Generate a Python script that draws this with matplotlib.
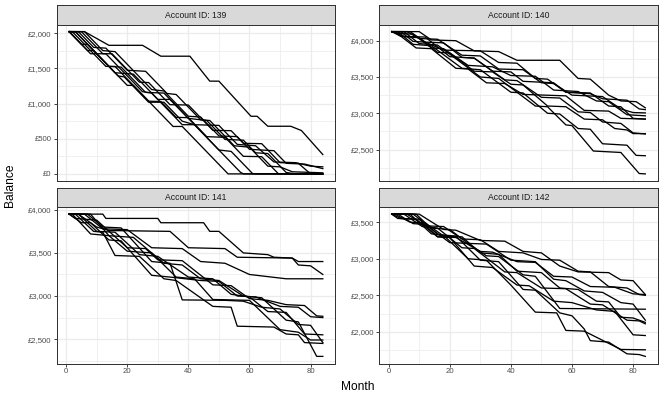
import matplotlib
matplotlib.use("Agg")
import matplotlib.pyplot as plt
from matplotlib.ticker import FuncFormatter, MultipleLocator

# each simulated path is stored as (month, balance) turning points
acc_139 = [
    [(1, 2025), (6, 2025), (14, 1830), (25, 1830), (31, 1675), (40.5, 1675), (47, 1320), (50, 1320),
     (53, 1177), (60.5, 820), (62.5, 820), (66, 678), (73.5, 678), (77, 617), (84, 275)],
    [(1, 2025), (5, 1845), (7, 1845), (20, 1260), (22, 1260), (35, 675), (38, 675), (53, 0), (84, 0)],
    [(1, 2025), (3, 2025), (10, 1710), (13, 1710), (25, 1170), (28, 1150), (38, 700), (42, 700),
     (57, 25), (58, 0), (84, 0)],
    [(1, 2025), (7, 1755), (9, 1755), (17, 1395), (19, 1380), (27, 1020), (32, 1020), (38, 750),
     (42, 700), (50, 340), (54, 320), (61, 5), (62.5, 0), (84, 0)],
    [(1, 2025), (2, 2025), (13, 1530), (16, 1530), (27, 1035), (31, 1030), (36, 805), (40, 800),
     (46, 530), (52, 520), (58, 250), (64, 245), (69.5, 0), (84, 0)],
    [(1, 2025), (8, 1710), (10, 1710), (16, 1440), (22, 1420), (30, 1060), (34, 1060), (40, 790),
     (46, 760), (52, 490), (58, 480), (62, 300), (66, 290), (72, 20), (75, 0), (84, 0)],
    [(1, 2025), (5, 2025), (12, 1710), (15, 1710), (24, 1305), (27, 1300), (34, 985), (40, 980),
     (48, 620), (54, 615), (58, 435), (64, 430), (70, 160), (76, 150), (80, 0), (84, 0)],
    [(1, 2025), (3, 2025), (14, 1530), (18, 1520), (26, 1160), (32, 1150), (42, 700), (50, 690),
     (56, 420), (62, 400), (68, 170), (75, 160), (80, 110), (84, 100)],
    [(1, 2025), (6, 2025), (12, 1755), (16, 1740), (28, 1200), (32, 1180), (40, 820), (44, 810),
     (50, 540), (56, 530), (60, 350), (68, 330), (72, 150), (78, 140), (84, 75)],
    [(1, 2025), (4, 2025), (9, 1800), (13, 1790), (20, 1475), (26, 1460), (33, 1145), (36, 1130),
     (44, 770), (47, 760), (55, 400), (60, 380), (66, 110), (70, 100), (74, 30), (84, 15)],
]

acc_140 = [
    [(1, 4125), (10, 4125), (14, 4010), (22, 4000), (28, 3860), (36, 3850), (42, 3730), (56, 3730),
     (62, 3480), (66, 3470), (72, 3250), (76, 3170), (81, 3160), (84, 3075)],
    [(1, 4125), (4, 4125), (8, 3990), (12, 3980), (18, 3870), (30, 3860), (36, 3700), (42, 3690),
     (48, 3480), (52, 3470), (58, 3290), (66, 3270), (70, 3200), (78, 3180), (82, 3060), (84, 3050)],
    [(1, 4125), (6, 4125), (10, 4030), (16, 4020), (24, 3800), (30, 3790), (36, 3610), (44, 3600),
     (50, 3420), (54, 3410), (60, 3250), (70, 3230), (76, 3060), (80, 3010), (84, 3005)],
    [(1, 4125), (3, 4100), (8, 4090), (14, 3900), (18, 3890), (26, 3660), (34, 3640), (40, 3520),
     (48, 3510), (54, 3320), (62, 3300), (68, 3170), (72, 3160), (78, 2980), (84, 2965)],
    [(1, 4125), (5, 4060), (12, 4050), (20, 3780), (28, 3760), (34, 3580), (40, 3570), (44, 3440),
     (54, 3420), (58, 3290), (66, 3280), (72, 3100), (76, 3090), (80, 2930), (84, 2920)],
    [(1, 4125), (2, 4125), (9, 3900), (14, 3890), (22, 3620), (26, 3610), (32, 3420), (38, 3410),
     (44, 3260), (58, 3240), (64, 3040), (72, 3030), (76, 2930), (84, 2920)],
    [(1, 4125), (4, 4060), (10, 4040), (16, 3840), (20, 3830), (28, 3580), (34, 3570), (40, 3400),
     (44, 3390), (52, 3100), (58, 3090), (64, 2920), (70, 2910), (74, 2790), (78, 2770), (80, 2720),
     (84, 2720)],
    [(1, 4125), (7, 4125), (12, 3980), (18, 3970), (24, 3770), (28, 3760), (38, 3460), (42, 3450),
     (50, 3220), (56, 3210), (62, 3020), (66, 3010), (70, 2880), (76, 2860), (80, 2730), (84, 2715)],
    [(1, 4125), (3, 4125), (8, 3950), (14, 3930), (24, 3620), (30, 3600), (40, 3290), (44, 3280),
     (52, 3000), (56, 2990), (62, 2790), (66, 2780), (70, 2580), (78, 2560), (81, 2420), (84, 2415)],
    [(1, 4125), (5, 4125), (10, 3960), (16, 3940), (30, 3500), (36, 3480), (48, 3100), (52, 3090),
     (58, 2840), (60, 2830), (67, 2480), (76, 2460), (82, 2170), (84, 2165)],
]

acc_141 = [
    [(1, 3950), (12, 3950), (13, 3900), (30, 3900), (31, 3850), (45, 3850), (47, 3750), (50, 3750),
     (58, 3500), (66, 3480), (68, 3450), (74, 3440), (76, 3400), (84, 3400)],
    [(1, 3950), (4, 3950), (10, 3800), (14, 3760), (34, 3750), (40, 3560), (52, 3550), (56, 3450),
     (74, 3440), (76, 3360), (80, 3350), (84, 3250)],
    [(1, 3950), (6, 3950), (12, 3780), (20, 3770), (28, 3560), (38, 3550), (44, 3400), (52, 3380),
     (60, 3250), (72, 3200), (84, 3200)],
    [(1, 3950), (3, 3900), (10, 3880), (20, 3560), (26, 3550), (30, 3420), (38, 3410), (48, 3130),
     (54, 3120), (60, 2970), (66, 2950), (72, 2900), (78, 2890), (82, 2770), (84, 2765)],
    [(1, 3950), (5, 3850), (8, 3850), (14, 3650), (18, 3640), (28, 3240), (34, 3220), (44, 3180),
     (50, 3170), (56, 3000), (62, 2990), (70, 2880), (76, 2870), (80, 2760), (84, 2750)],
    [(1, 3950), (4, 3950), (10, 3750), (16, 3740), (24, 3480), (30, 3460), (40, 3220), (48, 3200),
     (54, 3020), (60, 2990), (66, 2820), (72, 2810), (78, 2560), (84, 2550)],
    [(1, 3950), (2, 3950), (8, 3720), (14, 3700), (20, 3520), (28, 3500), (36, 3220), (42, 3200),
     (48, 2960), (60, 2950), (70, 2610), (76, 2580), (80, 2490), (84, 2490)],
    [(1, 3950), (7, 3950), (12, 3800), (18, 3790), (28, 3400), (34, 3380), (38, 2955), (52, 2950),
     (58, 2940), (64, 2870), (70, 2850), (76, 2670), (80, 2660), (84, 2460)],
    [(1, 3950), (3, 3950), (9, 3750), (12, 3740), (16, 3470), (24, 3460), (32, 3200), (36, 3180),
     (48, 2880), (54, 2870), (56, 2650), (68, 2640), (72, 2560), (76, 2550), (78, 2460), (84, 2450)],
    [(1, 3950), (8, 3950), (14, 3700), (22, 3680), (32, 3380), (38, 3360), (44, 3200), (50, 3180),
     (58, 3000), (64, 2980), (72, 2720), (76, 2700), (82, 2300), (84, 2300)],
]

acc_142 = [
    [(1, 3610), (10, 3610), (18, 3400), (22, 3390), (30, 3250), (38, 3240), (44, 3100), (50, 3080),
     (56, 2900), (62, 2820), (72, 2810), (76, 2710), (80, 2700), (84, 2510)],
    [(1, 3610), (6, 3610), (12, 3450), (18, 3440), (24, 3270), (30, 3260), (36, 3100), (44, 3080),
     (50, 2990), (56, 2980), (62, 2830), (66, 2820), (72, 2620), (78, 2600), (82, 2510), (84, 2500)],
    [(1, 3610), (4, 3550), (10, 3540), (16, 3300), (22, 3290), (30, 3100), (34, 3090), (42, 2960),
     (48, 2950), (54, 2760), (60, 2750), (66, 2620), (74, 2610), (80, 2520), (84, 2510)],
    [(1, 3610), (3, 3610), (8, 3480), (12, 3470), (20, 3220), (26, 3210), (32, 3040), (36, 3030),
     (44, 2780), (48, 2760), (56, 2320), (84, 2310)],
    [(1, 3610), (8, 3610), (14, 3420), (20, 3400), (26, 3210), (32, 3200), (40, 2980), (48, 2960),
     (54, 2720), (58, 2700), (64, 2560), (70, 2540), (76, 2400), (80, 2380), (84, 2160)],
    [(1, 3610), (2, 3610), (7, 3500), (12, 3490), (18, 3310), (24, 3300), (30, 3080), (36, 3060),
     (42, 2830), (50, 2810), (56, 2600), (62, 2580), (68, 2420), (72, 2410), (76, 2200), (80, 2190),
     (84, 2130)],
    [(1, 3610), (5, 3610), (11, 3440), (16, 3420), (24, 3150), (28, 3140), (38, 2820), (42, 2810),
     (50, 2600), (58, 2590), (66, 2380), (70, 2370), (78, 2160), (82, 2150), (84, 2110)],
    [(1, 3610), (3, 3550), (9, 3540), (16, 3300), (20, 3290), (28, 2900), (34, 2880), (42, 2640),
     (46, 2630), (54, 2420), (60, 2400), (68, 2300), (74, 2280), (80, 1960), (84, 1950)],
    [(1, 3610), (7, 3610), (14, 3340), (18, 3320), (26, 3000), (32, 2980), (40, 2640), (48, 2270),
     (55, 2260), (58, 2020), (64, 2010), (76, 1760), (84, 1755)],
    [(1, 3610), (9, 3610), (16, 3330), (22, 3310), (30, 2980), (36, 2960), (44, 2580), (48, 2570),
     (56, 2260), (60, 2220), (64, 2040), (66, 1880), (72, 1860), (78, 1700), (82, 1690), (84, 1665)],
]

account_ids = [139, 140, 141, 142]
paths = [acc_139, acc_140, acc_141, acc_142]
y_steps = [500, 500, 500, 500]

W, H = 664, 399
fig = plt.figure(figsize=(W / 72, H / 72), dpi=72)
plt.rcParams["font.family"] = ["Liberation Sans", "DejaVu Sans"]

# panel boxes in pixels: (left, top, width, height)
col_x = [56.5, 379.0]
row_y = [24.5, 207.0]
pw, ph = 279.0, 156.5
strip_h = 19.0

def px_axes(left, top, width, height):
    return fig.add_axes([left / W, 1 - (top + height) / H, width / W, height / H])

money = FuncFormatter(lambda v, pos: f"£{v:,.0f}")

for i, (acc, lines) in enumerate(zip(account_ids, paths)):
    r, c = divmod(i, 2)
    ax = px_axes(col_x[c], row_y[r], pw, ph)
    for line in lines:
        months = [p[0] for p in line]
        bal = [p[1] for p in line]
        ax.plot(months, bal, color="black", lw=1.3, solid_joinstyle="round")
    ax.set_xlim(1 - 0.05 * 83, 84 + 0.05 * 83)
    ax.margins(y=0.05)
    ax.xaxis.set_major_locator(MultipleLocator(20))
    ax.xaxis.set_minor_locator(MultipleLocator(10))
    ax.yaxis.set_major_locator(MultipleLocator(y_steps[i]))
    ax.yaxis.set_minor_locator(MultipleLocator(y_steps[i] / 2))
    ax.yaxis.set_major_formatter(money)
    ax.grid(True, which="major", color="#EBEBEB", lw=1.3)
    ax.grid(True, which="minor", color="#EBEBEB", lw=0.7)
    ax.set_axisbelow(True)
    for s in ax.spines.values():
        s.set_color("#333333")
        s.set_linewidth(1.0)
    ax.tick_params(which="major", length=2.75, width=0.9, color="#333333",
                   labelsize=7.8, labelcolor="#4D4D4D", pad=2)
    ax.tick_params(which="minor", length=0)
    if r == 0:
        ax.tick_params(axis="x", which="both", length=0, labelbottom=False)

    st = px_axes(col_x[c], row_y[r] - strip_h, pw, strip_h)
    st.set_facecolor("#D9D9D9")
    st.set_xticks([])
    st.set_yticks([])
    for s in st.spines.values():
        s.set_color("#333333")
        s.set_linewidth(1.0)
    st.text(0.5, 0.5, f"Account ID: {acc}", ha="center", va="center",
            fontsize=8.6, color="#1A1A1A", transform=st.transAxes)

fig.text(357.5 / W, 1 - 386.5 / H, "Month", ha="center", va="center", fontsize=12)
fig.text(10 / W, 1 - 185 / H, "Balance", ha="center", va="center", rotation=90, fontsize=12)

fig.savefig("out.png", dpi=72)
